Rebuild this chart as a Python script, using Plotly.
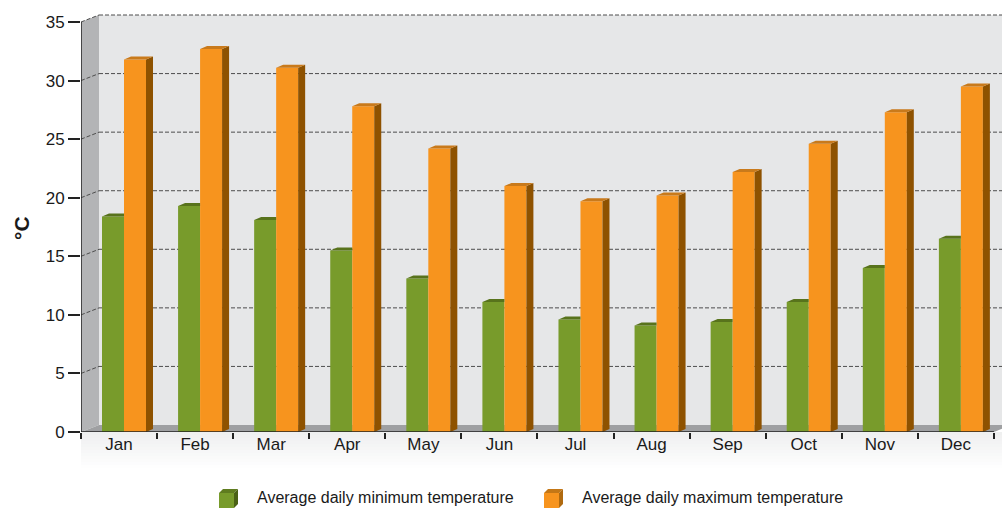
import plotly.graph_objects as go

# Monthly climate data (°C)
months = ["Jan", "Feb", "Mar", "Apr", "May", "Jun", "Jul", "Aug", "Sep", "Oct", "Nov", "Dec"]
min_temp = [18.4, 19.3, 18.1, 15.5, 13.1, 11.1, 9.6, 9.1, 9.4, 11.1, 14.0, 16.5]
max_temp = [31.8, 32.7, 31.1, 27.8, 24.2, 21.0, 19.7, 20.2, 22.2, 24.6, 27.3, 29.5]
y_ticks = [0, 5, 10, 15, 20, 25, 30, 35]
series_names = ["Average daily minimum temperature", "Average daily maximum temperature"]

W, H = 1002, 509
ML, MT, MB = 81, 0, 77
PX_X = 76.08            # pixels per category
PX_Y = 11.714           # pixels per degree
plot_w = W - ML
plot_h = H - MT - MB
x_max = plot_w / PX_X
y_max = plot_h / PX_Y

# pseudo-3D offsets (data units)
wall_dx, wall_dy = 18 / PX_X, 7 / PX_Y
bar_dx, bar_dy = 7 / PX_X, 3 / PX_Y
bar_w = 22 / PX_X
green_x0 = 21 / PX_X
orange_x0 = 43 / PX_X

GREEN = "#789b2b"
GREEN_TOP = "#58731c"
ORANGE = "#f7941e"
ORANGE_TOP = "#c97a1b"
ORANGE_SIDE = "#8e5200"
FONT = "Liberation Sans Narrow, Arial Narrow, Liberation Sans, Arial, sans-serif"

fig = go.Figure()

# front faces
xs_min = [i + green_x0 + bar_w / 2 for i in range(len(months))]
xs_max = [i + orange_x0 + bar_w / 2 for i in range(len(months))]
fig.add_trace(go.Bar(x=xs_min, y=min_temp, width=bar_w, marker=dict(color=GREEN, line=dict(width=0)),
                     name=series_names[0], showlegend=False, hoverinfo="skip"))
fig.add_trace(go.Bar(x=xs_max, y=max_temp, width=bar_w, marker=dict(color=ORANGE, line=dict(width=0)),
                     name=series_names[1], showlegend=False, hoverinfo="skip"))

# green tops (the part not hidden by the orange bar in front of it)
gx, gy = [], []
for i, v in enumerate(min_temp):
    x0 = i + green_x0
    x1 = x0 + bar_w
    gx += [x0, x1, x1, x0 + bar_dx, x0, None]
    gy += [v, v, v + bar_dy, v + bar_dy, v, None]
fig.add_trace(go.Scatter(x=gx, y=gy, mode="lines", fill="toself", fillcolor=GREEN_TOP,
                         line=dict(width=0, color=GREEN_TOP), showlegend=False, hoverinfo="skip"))

# orange sides and tops
sx, sy, tx, ty = [], [], [], []
for i, v in enumerate(max_temp):
    x0 = i + orange_x0
    x1 = x0 + bar_w
    sx += [x1, x1 + bar_dx, x1 + bar_dx, x1, x1, None]
    sy += [0, bar_dy, v + bar_dy, v, 0, None]
    tx += [x0, x1, x1 + bar_dx, x0 + bar_dx, x0, None]
    ty += [v, v, v + bar_dy, v + bar_dy, v, None]
fig.add_trace(go.Scatter(x=sx, y=sy, mode="lines", fill="toself", fillcolor=ORANGE_SIDE,
                         line=dict(width=0, color=ORANGE_SIDE), showlegend=False, hoverinfo="skip"))
fig.add_trace(go.Scatter(x=tx, y=ty, mode="lines", fill="toself", fillcolor=ORANGE_TOP,
                         line=dict(width=0, color=ORANGE_TOP), showlegend=False, hoverinfo="skip"))

shapes = []
top = y_ticks[-1]
n = len(months)
# back wall, side wall, floor
shapes.append(dict(type="rect", xref="x", yref="y", x0=wall_dx, x1=x_max + 1, y0=wall_dy, y1=top + wall_dy,
                   fillcolor="#e6e7e8", line=dict(width=0), layer="below"))
shapes.append(dict(type="path", xref="x", yref="y", layer="below", fillcolor="#b3b4b6", line=dict(width=0),
                   path=f"M0,0 L0,{top} L{wall_dx},{top + wall_dy} L{wall_dx},{wall_dy} Z"))
shapes.append(dict(type="path", xref="x", yref="y", layer="below", fillcolor="#9fa0a2", line=dict(width=0),
                   path=f"M0,0 L{wall_dx},{wall_dy} L{n + wall_dx},{wall_dy} L{n},0 Z"))
# dashed gridlines on side wall and back wall
for v in y_ticks[1:]:
    shapes.append(dict(type="line", xref="x", yref="y", layer="below", x0=0, y0=v, x1=wall_dx, y1=v + wall_dy,
                       line=dict(color="#4d4d4d", width=1, dash="4px,2px")))
    shapes.append(dict(type="line", xref="x", yref="y", layer="below", x0=wall_dx, y0=v + wall_dy,
                       x1=x_max + 1, y1=v + wall_dy, line=dict(color="#4d4d4d", width=1, dash="4px,2px")))
# soft shadow under the floor
for k in range(12):
    shapes.append(dict(type="rect", xref="x", yref="paper", x0=0, x1=n + 0.3, layer="below",
                       y0=-(k + 1) * 3 / plot_h, y1=-k * 3 / plot_h,
                       fillcolor="#d2d3d5", opacity=0.35 * (1 - k / 12), line=dict(width=0)))
# axis lines
shapes.append(dict(type="line", xref="x", yref="y", x0=0, y0=0, x1=0, y1=top, line=dict(color="#222", width=1.5)))
shapes.append(dict(type="line", xref="x", yref="y", x0=0, y0=0, x1=n, y1=0, line=dict(color="#222", width=1.5)))


# legend: small cubes and labels
def px_to_paper(px, py):
    return (px - ML) / plot_w, (MT + plot_h - py) / plot_h


def cube(px, py, size, front, topc, side):
    d = 4
    out = []
    pts_front = [(px, py), (px + size, py), (px + size, py + size), (px, py + size)]
    pts_top = [(px, py), (px + size, py), (px + size + d, py - d), (px + d, py - d)]
    pts_side = [(px + size, py), (px + size + d, py - d), (px + size + d, py + size - d), (px + size, py + size)]
    for pts, c in ((pts_top, topc), (pts_side, side), (pts_front, front)):
        conv = [px_to_paper(a, b) for a, b in pts]
        path = "M" + " L".join(f"{a},{b}" for a, b in conv) + " Z"
        out.append(dict(type="path", xref="paper", yref="paper", path=path, fillcolor=c, line=dict(width=0)))
    return out


shapes += cube(219, 493, 15, GREEN, "#5f7c1f", "#4a6115")
shapes += cube(544, 493, 15, ORANGE, "#c47716", "#b06a10")

annotations = []
for label, px in ((series_names[0], 255), (series_names[1], 580)):
    ax, ay = px_to_paper(px, 497)
    annotations.append(dict(text=label, x=ax, y=ay, xref="paper", yref="paper", xanchor="left", yanchor="middle",
                            showarrow=False, font=dict(family=FONT, size=16, color="#1a1a1a")))
tx_, ty_ = px_to_paper(21, 228)
annotations.append(dict(text="°C", x=tx_, y=ty_, xref="paper", yref="paper", textangle=-90, showarrow=False,
                        xanchor="center", yanchor="middle",
                        font=dict(family="Liberation Sans, Arial, sans-serif", size=21, color="#1a1a1a", weight="bold")))

fig.update_layout(
    width=W, height=H,
    margin=dict(l=ML, r=0, t=MT, b=MB, pad=0),
    paper_bgcolor="white", plot_bgcolor="white",
    barmode="overlay",
    shapes=shapes, annotations=annotations,
    showlegend=False,
    xaxis=dict(range=[0, x_max], tickvals=[i + 0.5 for i in range(n)], ticktext=months, ticks="",
               showgrid=False, zeroline=False, showline=False,
               tickfont=dict(family=FONT, size=17, color="#1a1a1a"),
               minor=dict(tickvals=list(range(n + 1)), ticks="outside", ticklen=6, tickcolor="#222",
                          tickwidth=1.5, showgrid=False)),
    yaxis=dict(range=[0, y_max], tickvals=y_ticks, ticks="outside", ticklen=12, tickcolor="#222", tickwidth=1.5,
               showgrid=False, zeroline=False, showline=False,
               tickfont=dict(family=FONT, size=17, color="#1a1a1a")),
)

fig.write_html("out.html")
